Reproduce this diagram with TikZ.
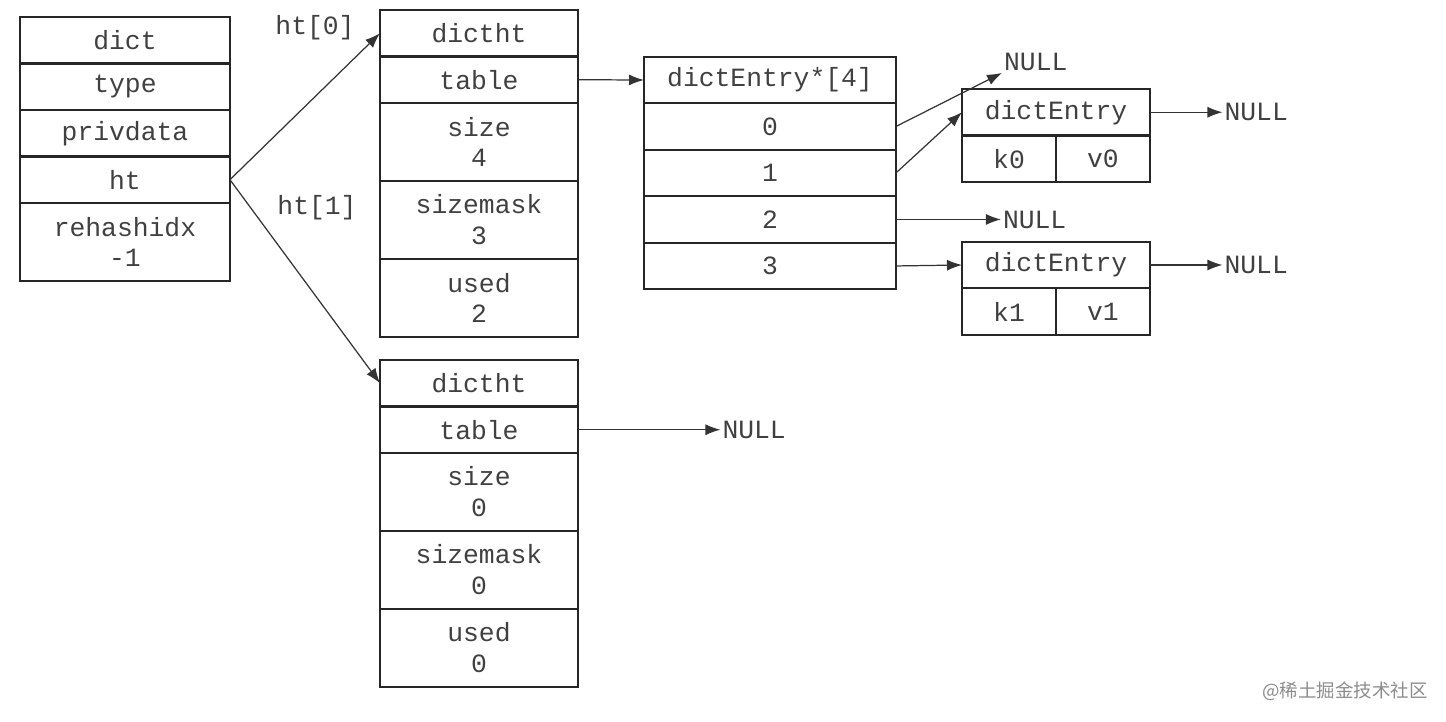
\documentclass[tikz,border=0pt]{standalone}
\usepackage{fontspec}
\setmonofont{Liberation Mono}
\newfontfamily\cjkfont{Noto Sans CJK SC}
\usetikzlibrary{arrows.meta, positioning}

\begin{document}
\begin{tikzpicture}[x=0.02cm, y=-0.02cm,
        cell/.style={draw=black!85, line width=1.2pt, minimum height=0.93cm, inner sep=0pt, outer sep=0pt,
            font=\ttfamily\fontsize{15}{17.6}\selectfont, text=black!75, align=center},
        tall/.style={cell, minimum height=1.56cm},
        lbl/.style={font=\ttfamily\fontsize{15}{17.6}\selectfont, text=black!75, inner sep=1pt},
        ptr/.style={draw=black!80, line width=0.7pt, -{Latex[length=3mm,width=2.2mm]}}]
        \useasboundingbox (0,0) rectangle (1446,722);

        % dict
        \node[cell, minimum width=4.2cm, anchor=north west] (dict) at (20,17) {dict};
        \node[cell, minimum width=4.2cm, below=0pt of dict] (type) {type};
        \node[cell, minimum width=4.2cm, below=0pt of type] (priv) {privdata};
        \node[cell, minimum width=4.2cm, below=0pt of priv] (ht) {ht};
        \node[tall, minimum width=4.2cm, below=0pt of ht] (rehash) {rehashidx\\-1};

        % ht[0]
        \node[cell, minimum width=3.96cm, anchor=north west] (hta) at (380,10) {dictht};
        \node[cell, minimum width=3.96cm, below=0pt of hta] (taba) {table};
        \node[tall, minimum width=3.96cm, below=0pt of taba] (sizea) {size\\4};
        \node[tall, minimum width=3.96cm, below=0pt of sizea] (maska) {sizemask\\3};
        \node[tall, minimum width=3.96cm, below=0pt of maska] (useda) {used\\2};

        % ht[1]
        \node[cell, minimum width=3.96cm, anchor=north west] (htb) at (380,360) {dictht};
        \node[cell, minimum width=3.96cm, below=0pt of htb] (tabb) {table};
        \node[tall, minimum width=3.96cm, below=0pt of tabb] (sizeb) {size\\0};
        \node[tall, minimum width=3.96cm, below=0pt of sizeb] (maskb) {sizemask\\0};
        \node[tall, minimum width=3.96cm, below=0pt of maskb] (usedb) {used\\0};

        % table array
        \node[cell, minimum width=5.04cm, anchor=west] (arr) at (644,80) {dictEntry*[4]};
        \node[cell, minimum width=5.04cm, below=0pt of arr] (slot0) {0};
        \node[cell, minimum width=5.04cm, below=0pt of slot0] (slot1) {1};
        \node[cell, minimum width=5.04cm, below=0pt of slot1] (slot2) {2};
        \node[cell, minimum width=5.04cm, below=0pt of slot2] (slot3) {3};

        % entries
        \node[cell, minimum width=3.76cm, anchor=north west] (enta) at (962,89) {dictEntry};
        \node[cell, minimum width=1.88cm, anchor=north west] (ka) at (enta.south west) {k0};
        \node[cell, minimum width=1.88cm, right=0pt of ka] (va) {v0};
        \node[cell, minimum width=3.76cm, anchor=west] (entb) at (962,265) {dictEntry};
        \node[cell, minimum width=1.88cm, anchor=north west] (kb) at (entb.south west) {k1};
        \node[cell, minimum width=1.88cm, right=0pt of kb] (vb) {v1};

        % NULL ends
        \node[lbl, anchor=west] (nulla) at (1002,62) {NULL};
        \node[lbl, right=1.45cm of enta] (nullb) {NULL};
        \node[lbl, right=2.1cm of slot2] (nullc) {NULL};
        \node[lbl, right=1.45cm of entb] (nulld) {NULL};
        \node[lbl, right=2.85cm of tabb] (nulle) {NULL};

        \node[lbl] (lbla) at (315,28) {ht[0]};
        \node[lbl] (lblb) at (317,208) {ht[1]};

        \draw[ptr] (ht.east) -- (hta.west);
        \draw[ptr] (ht.east) -- (htb.west);
        \draw[ptr] (taba.east) -- (arr.west);
        \draw[ptr] (tabb.east) -- (nulle.west);
        \draw[ptr] (slot0.east) -- (nulla.south west);
        \draw[ptr] (slot1.east) -- (enta.west);
        \draw[ptr] (slot2.east) -- (nullc.west);
        \draw[ptr] (slot3.east) -- (entb.west);
        \draw[ptr] (enta.east) -- (nullb.west);
        \draw[ptr] (entb.east) -- (nulld.west);

        \node[font=\cjkfont\fontsize{10.5}{12}\selectfont, text=black!45] (mark) at (1345,691) {@稀土掘金技术社区};
    \end{tikzpicture}
\end{document}
